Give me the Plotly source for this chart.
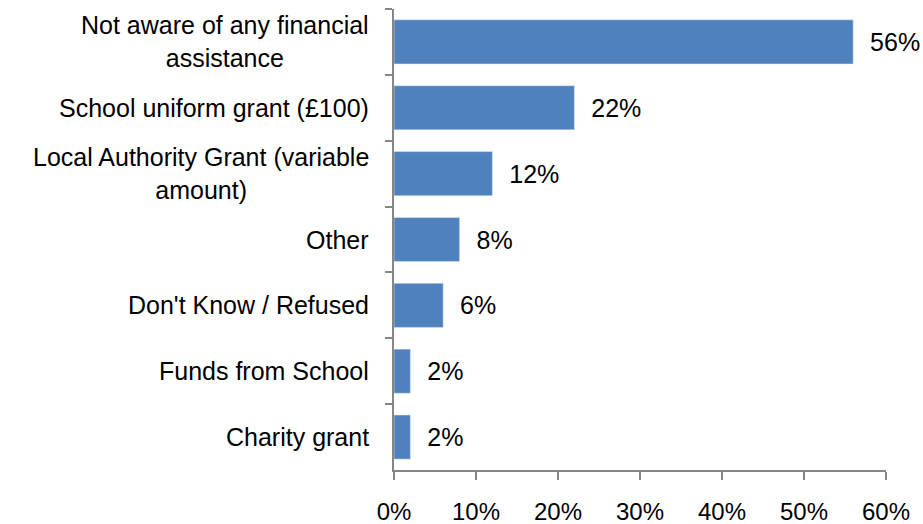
import plotly.graph_objs as go

# categories top to bottom
categories = ["Not aware of any financial<br>assistance",
              "School uniform grant (£100)",
              "Local Authority Grant (variable<br>amount)",
              "Other",
              "Don't Know / Refused",
              "Funds from School",
              "Charity grant"]
shares = [0.56, 0.22, 0.12, 0.08, 0.06, 0.02, 0.02]
x_ticks = [0, 0.1, 0.2, 0.3, 0.4, 0.5, 0.6]

width = 923
height = 524
font_family = "Liberation Sans, Arial, sans-serif"
font_size = 25
axis_grey = "#868686"

fig = go.Figure()
fig.add_trace(go.Bar(
    x=shares,
    y=categories,
    orientation="h",
    marker_color="#4F81BD",
    texttemplate="&nbsp;&nbsp;%{x:.0%}",
    textposition="outside",
    constraintext="none",
    cliponaxis=False,
    textfont=dict(size=font_size, color="#000000", family=font_family),
    hoverinfo="x+y",
))

# category labels as annotations so the wrapped lines are centred
for cat in categories:
    fig.add_annotation(
        x=0, xref="paper", y=cat, yref="y",
        text=cat, showarrow=False,
        xanchor="right", yanchor="middle", align="center",
        xshift=-23,
        font=dict(size=font_size, color="#000000", family=font_family),
    )

fig.update_layout(
    autosize=False,
    width=width,
    height=height,
    margin=dict(l=394, r=37, t=9, b=54, pad=0),
    paper_bgcolor="white",
    plot_bgcolor="white",
    bargap=0.33,
    showlegend=False,
    font=dict(family=font_family, size=font_size, color="#000000"),
    xaxis=dict(
        range=[0, 0.6],
        tickvals=x_ticks,
        tickformat=".0%",
        showgrid=False,
        zeroline=False,
        showline=True,
        linecolor=axis_grey,
        linewidth=1.5,
        ticks="outside",
        ticklen=8,
        tickwidth=1.5,
        tickcolor=axis_grey,
        ticklabelstandoff=11,
        automargin=False,
        tickfont=dict(size=24, color="#000000"),
    ),
    yaxis=dict(
        type="category",
        autorange="reversed",
        showgrid=False,
        zeroline=False,
        showline=True,
        linecolor=axis_grey,
        linewidth=1.5,
        ticks="outside",
        tickson="boundaries",
        ticklen=7,
        tickwidth=1.5,
        tickcolor=axis_grey,
        showticklabels=False,
        automargin=False,
    ),
)

# drop the default body margin so the figure fills the window exactly
fig.write_html("out.html",
               config={"displayModeBar": False},
               post_script="document.body.style.margin='0';document.body.style.overflow='hidden';")
